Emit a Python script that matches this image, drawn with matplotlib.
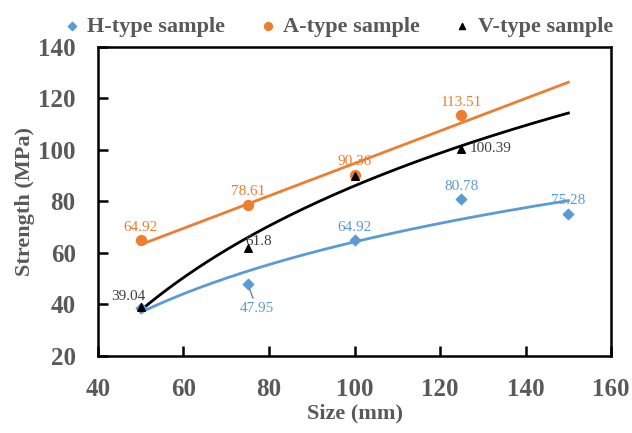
import matplotlib

matplotlib.use("Agg")
import matplotlib.pyplot as plt
import numpy as np

plt.rcParams["font.family"] = ["Liberation Serif", "DejaVu Serif"]

# data
h_size = [50, 75, 100, 125, 150]
h_strength = [38.5, 47.95, 64.92, 80.78, 75.28]
a_size = [50, 75, 100, 125]
a_strength = [64.92, 78.61, 90.36, 113.51]
v_size = [50, 75, 100, 125]
v_strength = [39.04, 61.8, 90.0, 100.39]

BLUE = "#5B9BD5"
ORANGE = "#ED7D31"
BLACK = "#000000"
GREY = "#595959"

fig = plt.figure(figsize=(6.32, 4.33), dpi=100)
ax = fig.add_axes([0.155, 0.178, 0.812, 0.714])

xs = np.linspace(50, 150, 200)

# trend lines: log fits for H and V, linear for A
hk = np.polyfit(np.log(h_size), h_strength, 1)
ax.plot(xs, np.polyval(hk, np.log(xs)), color=BLUE, lw=2.0, zorder=2)
ak = np.polyfit(a_size, a_strength, 1)
ax.plot(xs, np.polyval(ak, xs), color=ORANGE, lw=2.0, zorder=2)
vk = np.polyfit(np.log(v_size), v_strength, 1)
ax.plot(xs, np.polyval(vk, np.log(xs)), color=BLACK, lw=2.0, zorder=2)

ax.scatter(h_size, h_strength, marker="D", s=28, color=BLUE, zorder=3,
           label="H-type sample")
ax.scatter(a_size, a_strength, marker="o", s=50, color=ORANGE, zorder=3,
           label="A-type sample")
ax.scatter(v_size, v_strength, marker="^", s=30, color=BLACK, zorder=4,
           label="V-type sample")

lab = dict(fontsize=11, ha="center", va="bottom")
# A-type labels
for x, y in zip(a_size, a_strength):
    ax.text(x, y + 2.5, f"{y:g}", color=ORANGE, **lab)
# H-type labels
for x, y in zip(h_size[2:], h_strength[2:]):
    ax.text(x, y + 2.5, f"{y:g}", color=BLUE, **lab)
ax.annotate(f"{h_strength[1]:g}", xy=(h_size[1], h_strength[1]),
            xytext=(h_size[1] + 2.2, 38.3), color=BLUE, fontsize=11,
            ha="center", va="center",
            arrowprops=dict(arrowstyle="-", color="#7F7F7F", lw=1.0,
                            shrinkA=1, shrinkB=4))
# V-type labels
ax.text(v_size[0] - 3, v_strength[0] + 1.5, f"{v_strength[0]:g}",
        color="#404040", fontsize=11, ha="center", va="bottom")
ax.text(v_size[1] - 0.5, v_strength[1], f"{v_strength[1]:g}",
        color="#404040", fontsize=11, ha="left", va="bottom")
ax.text(v_size[3] + 2, v_strength[3], f"{v_strength[3]:g}",
        color="#404040", fontsize=11, ha="left", va="center")

ax.set_xlim(40, 160)
ax.set_ylim(20, 140)
ax.set_xticks(np.arange(40, 161, 20))
ax.set_yticks(np.arange(20, 141, 20))
ax.tick_params(direction="in", length=7, width=1.8, colors=BLACK,
               labelcolor=GREY, labelsize=18)
ax.tick_params(axis="x", pad=16)
ax.tick_params(axis="y", pad=16)
for lbl in ax.get_xticklabels() + ax.get_yticklabels():
    lbl.set_fontweight("bold")
for sp in ax.spines.values():
    sp.set_linewidth(1.8)

ax.set_xlabel("Size (mm)", fontsize=16, fontweight="bold", color=GREY,
              labelpad=2)
ax.set_ylabel("Strength (MPa)", fontsize=16, fontweight="bold", color=GREY,
              labelpad=2)

leg = ax.legend(loc="lower center", bbox_to_anchor=(0.47, 0.995), ncol=3,
                frameon=False, prop={"size": 16, "weight": "bold"},
                handlelength=0.6, handletextpad=0.4, columnspacing=1.6,
                markerscale=0.8, borderaxespad=0.1)
for t in leg.get_texts():
    t.set_color(GREY)

fig.savefig("out.png", dpi=100)
